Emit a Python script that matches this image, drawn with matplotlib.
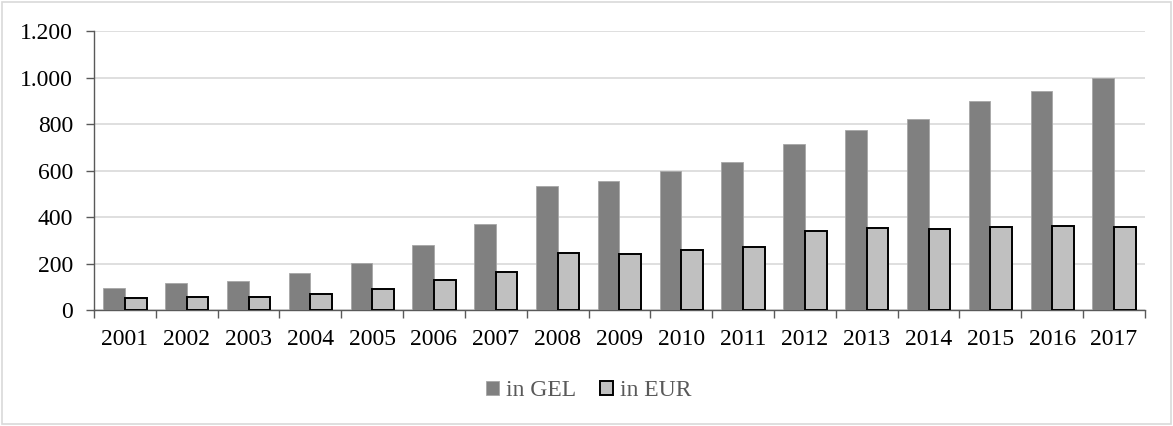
import numpy as np
import matplotlib.pyplot as plt
from matplotlib.patches import Rectangle
from matplotlib.ticker import FuncFormatter

years = list(range(2001, 2018))
gel = [96, 114, 125, 157, 204, 279, 368, 534, 556, 599, 636, 712, 774, 820, 900, 940, 999]
eur = [52, 58, 55, 68, 92, 127, 162, 246, 240, 256, 273, 340, 353, 350, 359, 362, 355]

plt.rcParams["font.family"] = ["Liberation Serif", "DejaVu Serif"]

fig = plt.figure(figsize=(11.73, 4.26), dpi=100)
ax = fig.add_axes([0.0801, 0.2723, 0.8960, 0.6549])

x = np.arange(len(years))
w = 0.35
ax.bar(x - w / 2, gel, w, color="#808080", edgecolor="#a6a6a6", linewidth=0.6, label="in GEL", zorder=3)
ax.bar(x + w / 2, eur, w, color="#c0c0c0", edgecolor="black", linewidth=1.4, label="in EUR", zorder=3)

ax.set_xlim(-0.5, len(years) - 0.5)
ax.set_ylim(0, 1200)
ax.set_yticks(range(0, 1201, 200))
ax.yaxis.set_major_formatter(FuncFormatter(lambda v, p: f"{int(v):,}".replace(",", ".")))
ax.grid(axis="y", color="#d9d9d9", linewidth=1.2, zorder=0)

# category boundaries get tick marks, year labels sit between them
ax.set_xticks(np.arange(-0.5, len(years), 1))
ax.set_xticklabels([])
ax.set_xticks(x, minor=True)
ax.set_xticklabels([str(y) for y in years], minor=True)
ax.tick_params(axis="x", which="major", length=6, width=1, color="#595959")
ax.tick_params(axis="x", which="minor", length=0, pad=14, labelsize=17)
ax.tick_params(axis="y", length=6, width=1, color="#595959", labelsize=17, pad=9)

for side in ["top", "right"]:
    ax.spines[side].set_visible(False)
for side in ["left", "bottom"]:
    ax.spines[side].set_color("#595959")
    ax.spines[side].set_linewidth(1)

leg = fig.legend(loc="center", bbox_to_anchor=(0.502, 0.083), ncol=2, frameon=False,
                 fontsize=17, handlelength=0.55, handleheight=0.55, handletextpad=0.3,
                 columnspacing=1.0)
for t in leg.get_texts():
    t.set_color("#595959")

fig.patches.append(Rectangle((0.002, 0.004), 0.996, 0.992, transform=fig.transFigure,
                             fill=False, edgecolor="#d9d9d9", linewidth=1.2))

fig.savefig("out.png", dpi=100)
